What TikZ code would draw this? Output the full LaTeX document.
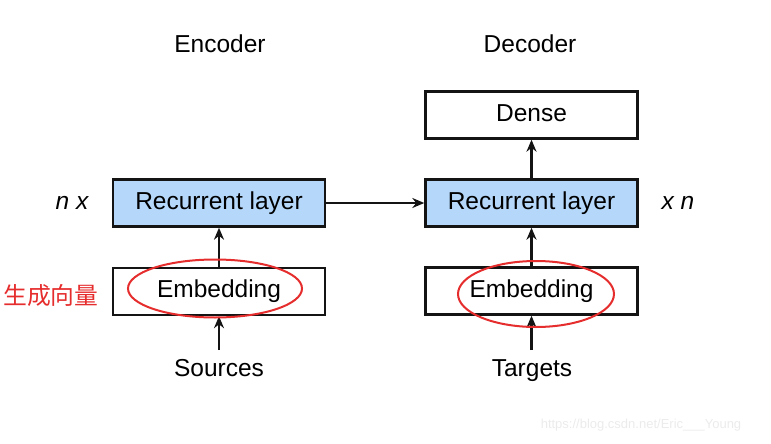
\documentclass[tikz,border=0pt]{standalone}
\usepackage{fontspec}
\setmainfont{Liberation Sans}
\newfontfamily\cjk{Noto Sans CJK SC}
\usetikzlibrary{arrows.meta}
\definecolor{layerblue}{RGB}{180,215,250}
\definecolor{markred}{RGB}{230,45,45}
\definecolor{boxline}{RGB}{20,20,20}
\begin{document}
\begin{tikzpicture}[x=1pt,y=-1pt,
  blk/.style={draw=boxline,line width=2.4pt,minimum width=212pt,minimum height=47pt,inner sep=0pt,text height=17.5pt,text depth=5pt,font=\fontsize{24.5}{26}\selectfont},
  rec/.style={blk,fill=layerblue},
  lbl/.style={font=\fontsize{24.5}{26}\selectfont,inner sep=0pt,text height=17.5pt,text depth=5pt},
  arr/.style={-{Stealth[length=12pt,width=10pt]},line width=2.4pt,draw=boxline},
  ring/.style={draw=markred,line width=2pt}]
\useasboundingbox (0,0) rectangle (771,444);
\node[lbl] (enc) at (220,46) {Encoder};
\node[lbl] (dec) at (530,46) {Decoder};
\node[rec] (er) at (219,203) {Recurrent layer};
\node[blk] (ee) at (219,291.5) {Embedding};
\node[blk] (dd) at (531.5,115) {Dense};
\node[rec] (dr) at (531.5,203) {Recurrent layer};
\node[blk] (de) at (531.5,291) {Embedding};
\node[lbl,font=\fontsize{24.5}{26}\selectfont\itshape] (nx) at (72,203) {n x};
\node[lbl,font=\fontsize{24.5}{26}\selectfont\itshape] (xn) at (678,203) {x n};
\node[lbl] (src) at (219,370) {Sources};
\node[lbl] (tgt) at (532,370) {Targets};
\coordinate (srcTop) at (219,350);
\coordinate (tgtTop) at (531.5,350);
\draw[arr] (srcTop) -- (ee.south);
\draw[arr] (tgtTop) -- (de.south);
\draw[arr] (ee.north) -- (er.south);
\draw[arr] (de.north) -- (dr.south);
\draw[arr] (dr.north) -- (dd.south);
\draw[arr] (er.east) -- (dr.west);
\draw[ring] (215,288.5) ellipse [x radius=87,y radius=29];
\draw[ring] (536,294) ellipse [x radius=78,y radius=33];
\node[inner sep=0pt,text=markred,font=\cjk\fontsize{23.8}{26}\selectfont] (zh) at (51,296) {生成向量};
\node[inner sep=0pt,text=black!8,font=\fontsize{13}{14}\selectfont] (wm) at (641,425) {https://blog.csdn.net/Eric\_\_\_Young};
\end{tikzpicture}
\end{document}
